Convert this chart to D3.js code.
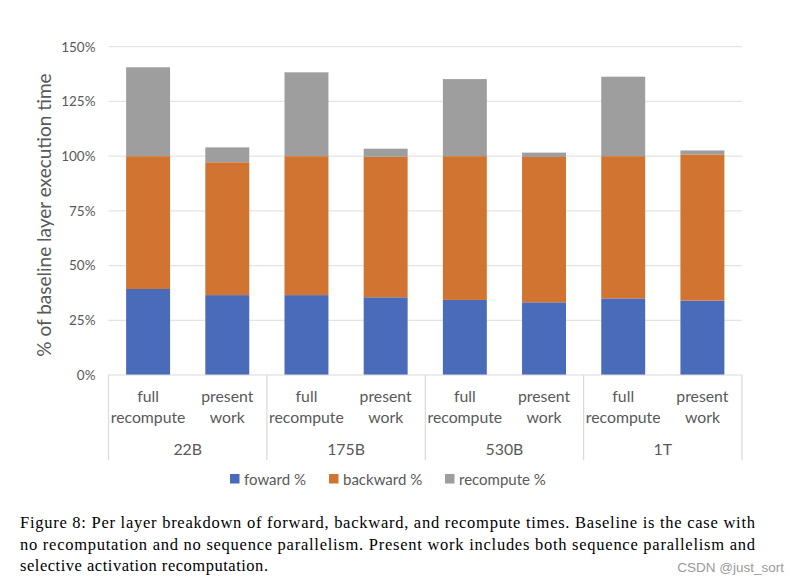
<!DOCTYPE html>
<html>
<head>
<meta charset="utf-8">
<script src="https://cdn.jsdelivr.net/npm/d3@7"></script>
<style>
  html, body { margin: 0; padding: 0; background: #fff; }
  svg { display: block; }
</style>
</head>
<body>
<svg id="chart" width="799" height="585"></svg>
<script>
const groups = ["22B", "175B", "530B", "1T"];
const methods = ["full\nrecompute", "present\nwork"];
const forward = [39.3, 36.5, 36.5, 35.5, 34.3, 33.2, 35.0, 34.0];
const backward = [60.7, 60.7, 63.5, 64.2, 65.7, 66.4, 65.0, 66.8];
const recompute = [40.6, 6.8, 38.3, 3.7, 35.2, 2.0, 36.3, 1.8];
const seriesNames = ["foward %", "backward %", "recompute %"];
const seriesColors = ["#4a6aba", "#d27431", "#9e9e9e"];
const yTicks = [0, 25, 50, 75, 100, 125, 150];
const captionLines = [
  "Figure 8: Per layer breakdown of forward, backward, and recompute times. Baseline is the case with",
  "no recomputation and no sequence parallelism. Present work includes both sequence parallelism and",
  "selective activation recomputation."
];
const watermark = "CSDN @just_sort";

const svg = d3.select("#chart");
const font = "Lato, 'Open Sans', sans-serif";
const plot = { left: 108.5, right: 742, top: 46.7, bottom: 375 };

const keys = [];
groups.forEach((g, gi) => methods.forEach((m, mi) => keys.push(gi * 2 + mi)));
const rows = keys.map(i => ({ i, forward: forward[i], backward: backward[i], recompute: recompute[i] }));

const x = d3.scaleBand().domain(keys).range([plot.left, plot.right]).paddingInner(0.445).paddingOuter(0.2225);
const y = d3.scaleLinear().domain([0, 150]).range([plot.bottom, plot.top]);

// gridlines
svg.append("g").selectAll("line").data(yTicks.filter(t => t > 0)).join("line")
  .attr("x1", plot.left).attr("x2", plot.right)
  .attr("y1", d => y(d)).attr("y2", d => y(d))
  .attr("stroke", "#e3e3e3").attr("stroke-width", 1.2);

// y axis tick labels
const yAxis = d3.axisLeft(y).tickValues(yTicks).tickFormat(d => d + "%").tickSize(0).tickPadding(13);
const yg = svg.append("g").attr("transform", `translate(${plot.left},0)`).call(yAxis);
yg.select(".domain").remove();
yg.selectAll("text").attr("font-family", font).attr("font-size", 13.5).attr("fill", "#595959");

// stacked bars
const stack = d3.stack().keys(["forward", "backward", "recompute"]);
const layers = stack(rows);
svg.append("g").selectAll("g").data(layers).join("g")
  .attr("fill", (d, i) => seriesColors[i])
  .selectAll("rect").data(d => d).join("rect")
  .attr("x", d => x(d.data.i))
  .attr("width", x.bandwidth())
  .attr("y", d => y(d[1]))
  .attr("height", d => y(d[0]) - y(d[1]));

// bottom axis line
svg.append("line").attr("x1", plot.left).attr("x2", plot.right)
  .attr("y1", plot.bottom).attr("y2", plot.bottom)
  .attr("stroke", "#d9d9d9").attr("stroke-width", 1.2);

// group separators
const groupW = (plot.right - plot.left) / groups.length;
const sepX = d3.range(groups.length + 1).map(k => plot.left + k * groupW);
svg.append("g").selectAll("line").data(sepX).join("line")
  .attr("x1", d => d).attr("x2", d => d)
  .attr("y1", plot.bottom).attr("y2", 460)
  .attr("stroke", "#d9d9d9").attr("stroke-width", 1.2);

// category labels
const catG = svg.append("g").attr("font-family", font).attr("font-size", 15.8).attr("fill", "#595959").attr("text-anchor", "middle");
keys.forEach(k => {
  const lines = methods[k % 2].split("\n");
  const cx = x(k) + x.bandwidth() / 2;
  lines.forEach((ln, li) => {
    catG.append("text").attr("x", cx).attr("y", 402 + li * 21).text(ln);
  });
});
groups.forEach((g, gi) => {
  catG.append("text").attr("x", plot.left + (gi + 0.5) * groupW).attr("y", 455).text(g);
});

// y axis title
svg.append("text")
  .attr("transform", `translate(51,${(63 + 367) / 2}) rotate(-90)`)
  .attr("text-anchor", "middle")
  .attr("font-family", font).attr("font-size", 19).attr("fill", "#595959")
  .text("% of baseline layer execution time");

// legend
const legendX = [230, 329, 445];
const lg = svg.append("g").attr("font-family", font).attr("font-size", 15).attr("fill", "#595959");
seriesNames.forEach((n, i) => {
  lg.append("rect").attr("x", legendX[i]).attr("y", 474).attr("width", 9.5).attr("height", 9.5).attr("fill", seriesColors[i]);
  lg.append("text").attr("x", legendX[i] + 14).attr("y", 484.5).text(n);
});

// caption
const cap = svg.append("g").attr("font-family", "'Liberation Serif', 'DejaVu Serif', serif").attr("font-size", 16.5).attr("fill", "#000");
const capY = [528, 550, 571];
captionLines.forEach((ln, i) => {
  const t = cap.append("text").attr("x", 20).attr("y", capY[i]).text(ln);
  if (i < 2) t.attr("textLength", 735).attr("lengthAdjust", "spacing");
  else t.attr("textLength", 248).attr("lengthAdjust", "spacing");
});

// watermark
svg.append("text").attr("x", 784).attr("y", 572).attr("text-anchor", "end")
  .attr("font-family", "'Liberation Sans Narrow', 'Liberation Sans', sans-serif").attr("font-size", 13.5).attr("fill", "#9a9a9a")
  .text(watermark);
</script>
</body>
</html>
